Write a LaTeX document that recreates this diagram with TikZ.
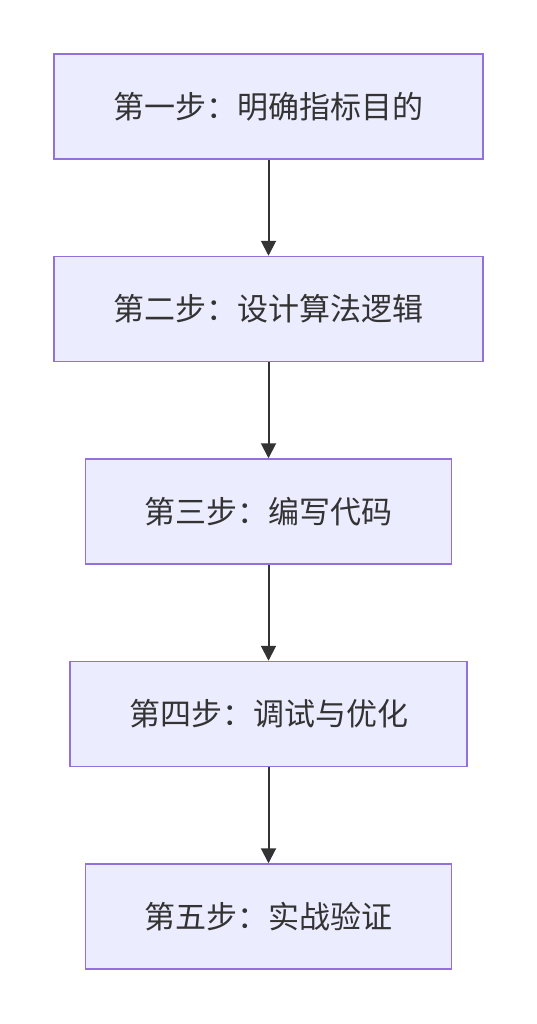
\documentclass[tikz,border=0pt]{standalone}
\usepackage{fontspec}
\setmainfont{Noto Sans CJK SC}
\usetikzlibrary{arrows.meta, positioning}
\definecolor{boxfill}{HTML}{ECECFF}
\definecolor{boxline}{HTML}{9370DB}
\definecolor{ink}{HTML}{333333}
\tikzstyle{stage} = [rectangle, draw=boxline, fill=boxfill, line width=1.5pt, text=ink, text centered, minimum height=105pt, font=\fontsize{31}{36}\selectfont]
\tikzstyle{arrow} = [draw=ink, line width=2pt, -{Triangle[length=15pt,width=15pt]}]

\begin{document}
\begin{tikzpicture}[node distance=202.5pt]
    \useasboundingbox (0,0) rectangle (537pt,-1024pt);

    % Steps
    \node (s1) [stage, minimum width=429pt] at (268.5pt,-106.5pt) {第一步：明确指标目的};
    \node (s2) [stage, minimum width=429pt, below of=s1] {第二步：设计算法逻辑};
    \node (s3) [stage, minimum width=366pt, below of=s2] {第三步：编写代码};
    \node (s4) [stage, minimum width=397pt, below of=s3] {第四步：调试与优化};
    \node (s5) [stage, minimum width=366pt, below of=s4] {第五步：实战验证};

    % Arrows
    \draw [arrow] (s1) -- (s2);
    \draw [arrow] (s2) -- (s3);
    \draw [arrow] (s3) -- (s4);
    \draw [arrow] (s4) -- (s5);

\end{tikzpicture}
\end{document}
